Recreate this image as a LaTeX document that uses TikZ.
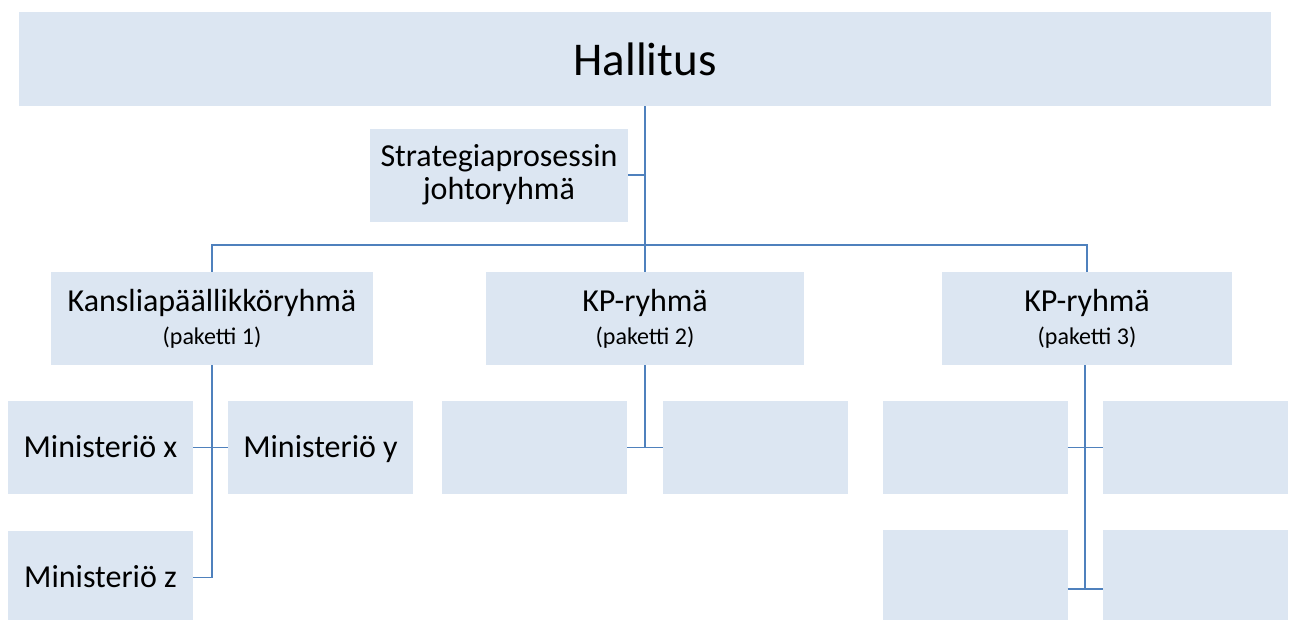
\documentclass[tikz,border=0pt]{standalone}
\usepackage{fontspec}
\setmainfont{Carlito}
\usetikzlibrary{calc}
\definecolor{boxblue}{HTML}{DCE6F2}
\definecolor{lineblue}{HTML}{4F81BD}
\newcommand{\pkt}[1]{{\fontsize{24}{26}\selectfont(paketti #1)}}

\begin{document}
\begin{tikzpicture}[x=1pt, y=-1pt,
	orgbox/.style={rectangle, fill=boxblue, inner sep=0pt, align=center,
		minimum height=93pt, font=\fontsize{32}{33}\selectfont},
	minbox/.style={orgbox, minimum width=185pt, text height=26pt, text depth=7pt},
	conn/.style={draw=lineblue, line width=1.5pt}]
	\useasboundingbox (0,0) rectangle (1289,619);
	
	% top level
	\node[orgbox, minimum width=1252pt, minimum height=94pt, font=\fontsize{47}{50}\selectfont] (hall) at (645,59) {Hallitus};
	\node[orgbox, minimum width=258pt] (strat) at (499,175) {Strategiaprosessin\\johtoryhmä};
	
	% packages
	\node[orgbox, minimum width=322pt] (kansli) at (212,318.5) {Kansliapäällikköryhmä\\\pkt{1}};
	\node[orgbox, minimum width=318pt] (kp2) at (645,318.5) {KP-ryhmä\\\pkt{2}};
	\node[orgbox, minimum width=290pt] (kp3) at (1087,318.5) {KP-ryhmä\\\pkt{3}};
	
	% ministries
	\node[minbox] (minx) at (100.5,447.5) {Ministeriö x};
	\node[minbox] (miny) at (320.5,447.5) {Ministeriö y};
	\node[minbox] (minz) at (100.5,577.5) {Ministeriö z};
	\node[minbox] (p2a) at (534.5,447.5) {};
	\node[minbox] (p2b) at (755.5,447.5) {};
	\node[minbox] (p3a) at (975,447.5) {};
	\node[minbox] (p3b) at (1195.5,447.5) {};
	\node[minbox, minimum height=118pt] (p3c) at (975,589) {};
	\node[minbox, minimum height=118pt] (p3d) at (1195.5,589) {};
	
	% connectors
	\coordinate (bus) at (645,245);
	\draw[conn] (hall.south) -- (kp2.north);
	\draw[conn] (strat.east) -- (strat.east -| hall.south);
	\draw[conn] (kansli.north) |- (bus) -| (kp3.north);
	
	\draw[conn] (kansli.south) |- (minz.east);
	\draw[conn] (minx.east) -- (miny.west);
	
	\draw[conn] (kp2.south) -- (kp2.south |- p2b.west);
	\draw[conn] (p2a.east) -- (p2b.west);
	
	\draw[conn] ($(kp3.south)+(-2,0)$) -- ($(kp3.south |- p3c.east)+(-2,0)$);
	\draw[conn] (p3a.east) -- (p3b.west);
	\draw[conn] (p3c.east) -- (p3d.west);
\end{tikzpicture}
\end{document}
